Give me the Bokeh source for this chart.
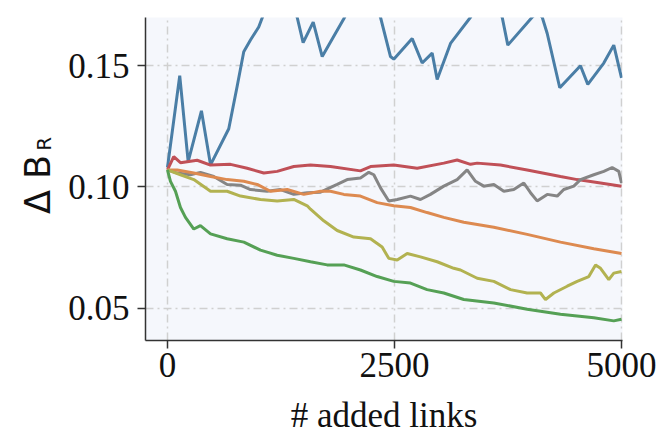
import math
from bokeh.plotting import figure
from bokeh.layouts import row
from bokeh.models import FixedTicker, NumeralTickFormatter, Range1d
from bokeh.core.properties import value
from bokeh.embed import file_html
from bokeh.resources import INLINE

# ---- data ----
blue_x = [0, 135, 228, 374, 474, 675, 768, 840, 914, 1005, 1060, 1250, 1428, 1494, 1605, 1704,
          1942, 2150, 2346, 2456, 2492, 2695, 2805, 2915, 2970, 3117, 3337, 3500, 3686, 3748,
          4016, 4070, 4127, 4182, 4320, 4548, 4629, 4805, 4915, 5000]
blue_y = [0.108, 0.1459, 0.1104, 0.1314, 0.1091, 0.124, 0.1416, 0.1558, 0.1606, 0.166, 0.1714,
          0.185, 0.170, 0.1595, 0.168, 0.1538, 0.1694, 0.185, 0.170, 0.1538, 0.1527, 0.1612,
          0.1511, 0.1552, 0.1443, 0.1592, 0.170, 0.182, 0.170, 0.1585, 0.170, 0.172, 0.170,
          0.1633, 0.1409, 0.150, 0.1423, 0.1511, 0.1585, 0.145]

red_x = [0, 69, 143, 327, 474, 694, 878, 1061, 1208, 1391, 1575, 1795, 2125, 2236, 2492, 2750,
         3043, 3190, 3337, 3411, 3667, 3961, 4328, 4512, 4769, 5000]
red_y = [0.107, 0.1125, 0.110, 0.111, 0.109, 0.1093, 0.1077, 0.1057, 0.1064, 0.1084, 0.109,
         0.1084, 0.1066, 0.1084, 0.109, 0.1077, 0.1098, 0.1111, 0.1093, 0.1098, 0.109, 0.107,
         0.1043, 0.103, 0.1016, 0.1003]

gray_x = [0, 107, 253, 363, 510, 657, 804, 914, 1098, 1244, 1391, 1539, 1685, 1869, 1979, 2125,
          2217, 2272, 2346, 2437, 2530, 2676, 2786, 2896, 3043, 3190, 3300, 3392, 3483, 3594,
          3704, 3814, 3924, 3998, 4071, 4182, 4292, 4364, 4475, 4548, 4695, 4805, 4897, 4970, 5000]
gray_y = [0.107, 0.1057, 0.105, 0.106, 0.1043, 0.101, 0.1007, 0.0989, 0.0982, 0.0989, 0.0969,
          0.0976, 0.0978, 0.101, 0.103, 0.1037, 0.106, 0.105, 0.0996, 0.0942, 0.0948, 0.0962,
          0.0948, 0.0969, 0.1003, 0.103, 0.107, 0.1023, 0.1003, 0.101, 0.0982, 0.0989, 0.1016,
          0.0976, 0.0942, 0.0969, 0.0962, 0.0989, 0.1003, 0.103, 0.105, 0.1064, 0.108, 0.1064, 0.1016]

orange_x = [0, 107, 290, 474, 657, 841, 988, 1134, 1318, 1501, 1685, 1795, 1942, 2125, 2309,
            2492, 2676, 2859, 3043, 3263, 3594, 3961, 4328, 4695, 5000]
orange_y = [0.107, 0.107, 0.1057, 0.1043, 0.103, 0.1023, 0.101, 0.0982, 0.0989, 0.0969, 0.0982,
            0.0982, 0.0969, 0.0962, 0.0935, 0.0922, 0.0915, 0.0894, 0.0874, 0.0854, 0.0833,
            0.0804, 0.0772, 0.0745, 0.0725]

olive_x = [0, 143, 290, 474, 657, 804, 1024, 1208, 1391, 1539, 1575, 1721, 1869, 2052, 2236,
           2364, 2437, 2530, 2640, 2786, 2970, 3153, 3227, 3411, 3594, 3778, 3961, 4108, 4163,
           4255, 4402, 4512, 4640, 4714, 4769, 4860, 4915, 5000]
olive_y = [0.107, 0.105, 0.103, 0.0982, 0.0982, 0.0962, 0.0948, 0.0942, 0.0948, 0.0922, 0.0908,
           0.086, 0.082, 0.0793, 0.0786, 0.0752, 0.0705, 0.0698, 0.0725, 0.0711, 0.0691, 0.0664,
           0.0657, 0.0623, 0.061, 0.0576, 0.0562, 0.0562, 0.0535, 0.0562, 0.059, 0.061, 0.063,
           0.0678, 0.0664, 0.0617, 0.0644, 0.0651]

green_x = [0, 33, 88, 143, 198, 290, 363, 474, 657, 841, 1024, 1208, 1391, 1575, 1758, 1942,
           2125, 2309, 2492, 2676, 2859, 3043, 3263, 3594, 3961, 4328, 4695, 4915, 5000]
green_y = [0.107, 0.1023, 0.0982, 0.0915, 0.0874, 0.0826, 0.084, 0.0806, 0.0786, 0.0772, 0.0739,
           0.0718, 0.0705, 0.0691, 0.0678, 0.0678, 0.0657, 0.063, 0.061, 0.0603, 0.0576, 0.0562,
           0.0535, 0.0521, 0.0495, 0.0474, 0.046, 0.0447, 0.0454]

x_ticks = [0, 2500, 5000]
y_ticks = [0.05, 0.10, 0.15]
x_label = "# added links"
y_label_main = "Δ B"
y_label_sub = "R"

series = [
    (blue_x, blue_y, "#4a7ea6"),
    (red_x, red_y, "#c05057"),
    (gray_x, gray_y, "#858585"),
    (orange_x, orange_y, "#dd8a50"),
    (olive_x, olive_y, "#b2b250"),
    (green_x, green_y, "#55a055"),
]

LW = 60   # width of the label strip on the left
H = 437

p = figure(width=664 - LW, height=H, output_backend="svg", toolbar_location=None,
           x_range=Range1d(-242, 5011), y_range=Range1d(0.0366, 0.1699),
           min_border_left=145 - LW, min_border_right=42, min_border_top=17, min_border_bottom=92)
p.background_fill_color = "#f5f7fc"
p.border_fill_color = "white"
p.outline_line_color = None

for xs, ys, c in series:
    p.line(xs, ys, line_color=c, line_width=3)

for g in (p.xgrid, p.ygrid):
    g.grid_line_color = "#d0d0d0"
    g.grid_line_width = 1.5
    g.grid_line_dash = "8 4 2 4"

p.xaxis.ticker = FixedTicker(ticks=x_ticks)
p.yaxis.ticker = FixedTicker(ticks=y_ticks)
p.xaxis.formatter = NumeralTickFormatter(format="0")
p.yaxis.formatter = NumeralTickFormatter(format="0.00")

for ax in (p.xaxis, p.yaxis):
    ax.axis_line_color = "#333333"
    ax.axis_line_width = 1.5
    ax.major_tick_line_color = "#333333"
    ax.major_tick_line_width = 1.5
    ax.major_tick_out = 8
    ax.major_tick_in = 0
    ax.minor_tick_out = 0
    ax.minor_tick_in = 0
    ax.major_label_text_font = "Liberation Serif"
    ax.major_label_text_font_size = "35px"
    ax.major_label_text_color = "#111111"

p.yaxis.major_label_standoff = 8
p.xaxis.major_label_standoff = 4
p.xaxis.axis_label = x_label
p.xaxis.axis_label_text_font = "Liberation Serif"
p.xaxis.axis_label_text_font_size = "35px"
p.xaxis.axis_label_text_font_style = "normal"
p.xaxis.axis_label_text_color = "#111111"
p.xaxis.axis_label_standoff = 16

# narrow strip holding the y-axis title "Δ B_R" (pixel coordinates, y up)
q = figure(width=LW, height=H, output_backend="svg", toolbar_location=None,
           x_range=Range1d(0, LW), y_range=Range1d(0, H),
           x_axis_location=None, y_axis_location=None,
           min_border_left=0, min_border_right=0, min_border_top=0, min_border_bottom=0)
q.outline_line_color = None
q.background_fill_color = "white"
q.border_fill_color = "white"
q.xgrid.visible = False
q.ygrid.visible = False
q.text(x=[37], y=[H - 226], text=[y_label_main], angle=math.pi / 2,
       text_font=value("DejaVu Sans"), text_font_size=value("35px"), text_color="#111111",
       text_baseline="middle", text_align="center")
q.text(x=[43], y=[H - 171], text=[y_label_sub], angle=math.pi / 2,
       text_font=value("DejaVu Sans"), text_font_size=value("20px"), text_color="#111111",
       text_baseline="middle", text_align="center")

layout = row(q, p)
open("out.html", "w").write(file_html(layout, INLINE))
